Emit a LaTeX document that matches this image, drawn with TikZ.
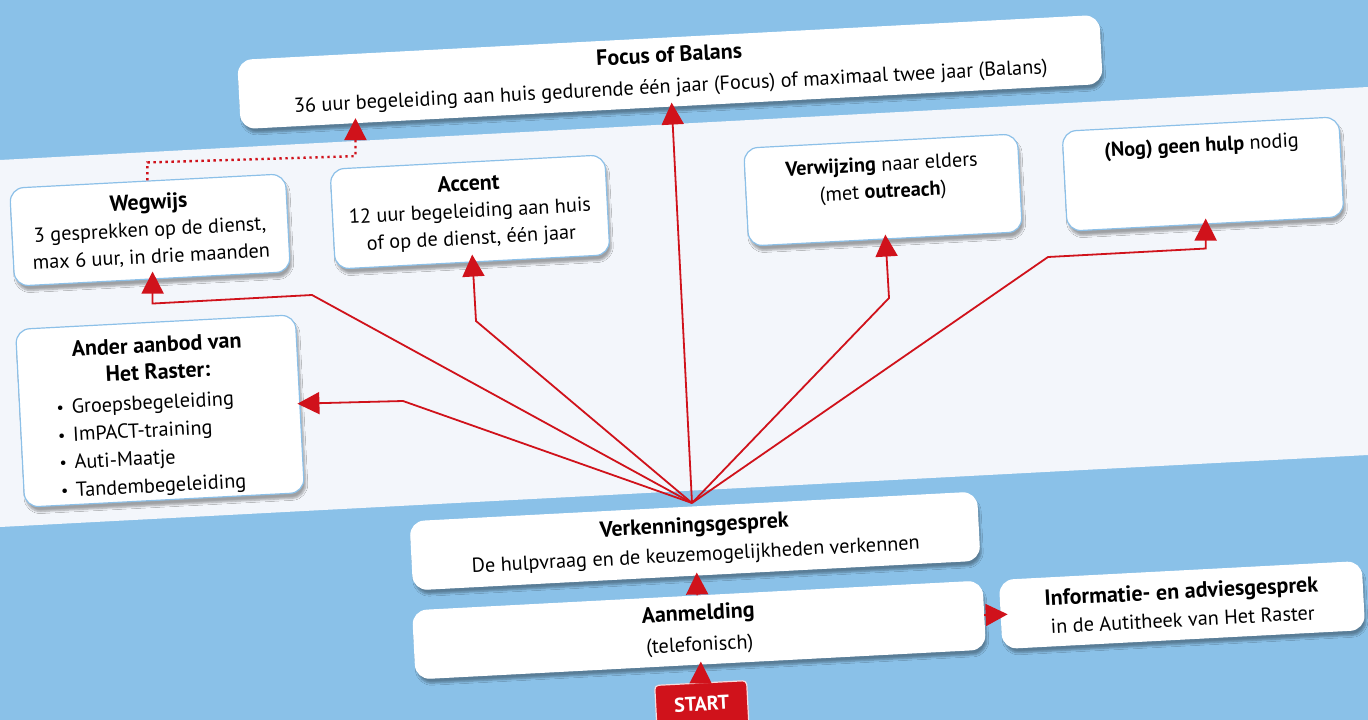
\documentclass[tikz,border=0pt]{standalone}
\usepackage{fontspec}
\setmainfont{PT Sans}
\usetikzlibrary{arrows.meta,calc,shadows.blur}
\definecolor{bgblue}{HTML}{8AC1E8}
\definecolor{band}{HTML}{F3F6FB}
\definecolor{arrred}{HTML}{D0121B}
\definecolor{edgeblue}{HTML}{8CC0E8}
\newcommand{\ttl}[1]{{\fontsize{22}{27}\selectfont\bfseries #1}}
\newcommand{\bul}{\makebox[15pt][l]{\raisebox{1pt}{\scalebox{0.8}{•}}}}
\begin{document}
\begin{tikzpicture}[x=1pt,y=-1pt,
  box/.style={draw=#1, line width=1.2pt, fill=white, rounded corners=14pt, rotate=3,
    align=center, font=\fontsize{20.3}{27}\selectfont, inner sep=0pt,
    blur shadow={shadow xshift=2pt, shadow yshift=-5pt, shadow blur steps=6, shadow opacity=35}},
  box/.default=edgeblue,
  conn/.style={draw=arrred, line width=1.8pt, -{Triangle[width=22pt,length=22pt]}},
  dotconn/.style={draw=arrred, line width=2.4pt, dash pattern=on 2.4pt off 3.6pt, -{Triangle[width=22pt,length=22pt]}},
]
\useasboundingbox (0,0) rectangle (1368,720);
\fill[bgblue] (0,0) rectangle (1368,720);
\fill[band] (0,160) -- (1368,87) -- (1368,455) -- (0,527) -- cycle;

% boxes
\node[box=white, minimum width=862pt, minimum height=68pt] (focus) at (670,72)
  {\ttl{Focus of Balans}\\[4pt]36 uur begeleiding aan huis gedurende één jaar (Focus) of maximaal twee jaar (Balans)};
\node[box, minimum width=276pt, minimum height=98pt] (wegwijs) at (150,230)
  {\ttl{Wegwijs}\\3 gesprekken op de dienst,\\max 6 uur, in drie maanden};
\node[box, minimum width=275pt, minimum height=100pt] (accent) at (470,212)
  {\ttl{Accent}\\12 uur begeleiding aan huis\\of op de dienst, één jaar};
\node[box, minimum width=274pt, minimum height=98pt] (verw) at (883,190)
  {\parbox[c][98pt][t]{260pt}{\centering\rule{0pt}{30pt}\textbf{Verwijzing} naar elders\\(met \textbf{outreach})}};
\node[box, minimum width=277pt, minimum height=100pt] (nog) at (1203,174)
  {\parbox[c][100pt][t]{260pt}{\centering\rule{0pt}{28pt}\textbf{(Nog) geen hulp} nodig}};
\node[box, minimum width=280pt, minimum height=178pt] (ander) at (160,411)
  {\parbox[c][178pt][t]{270pt}{\centering\rule{0pt}{30pt}\ttl{Ander aanbod van}\\\ttl{Het Raster:}\\[3pt]
   \parbox[t]{206pt}{\raggedright\baselineskip=27.7pt
   \bul Groepsbegeleiding\\
   \bul ImPACT-training\\
   \bul Auti-Maatje\\
   \bul Tandembegeleiding}}};
\node[box=white, minimum width=567pt, minimum height=68pt] (verk) at (695,541)
  {\ttl{Verkenningsgesprek}\\[2pt]De hulpvraag en de keuzemogelijkheden verkennen};
\node[box=white, minimum width=570pt, minimum height=68pt] (aanm) at (699,630)
  {\ttl{Aanmelding}\\[4pt](telefonisch)};
\node[box=white, minimum width=362pt, minimum height=68pt] (info) at (1182,605)
  {\ttl{Informatie- en adviesgesprek}\\[1pt]in de Autitheek van Het Raster};
\node[draw=white!85!arrred, line width=1.2pt, fill=arrred, rounded corners=4pt, rotate=3,
  minimum width=92pt, minimum height=52pt, inner sep=0pt, text=white,
  font=\fontsize{20}{24}\selectfont\bfseries] (start) at (702,709) {\raisebox{11pt}{START}};

% helper coordinates
\coordinate (hub) at (692,503);
\coordinate (wb) at (312,295);
\path (wegwijs.south) ++(0,24) coordinate (wc);
\coordinate (ab) at (476,321);
\coordinate (vb) at (889,298);
\coordinate (nb) at (1048,257);
\path (nog.south) ++(0,24) coordinate (nc);
\coordinate (db) at (403,401);
\path (wegwijs.north) ++(0,-18) coordinate (d1);
\coordinate (fd) at ($(focus.south west)!0.133!(focus.south east)$);
\path (fd) ++(0,33) coordinate (d2);

% connectors
\draw[conn, shorten >=-4pt] (hub) -- (focus.south);
\draw[conn, shorten >=-8pt] (hub) -- (wb) -- (wc) -- (wegwijs.south);
\draw[conn, shorten >=-8pt] (hub) -- (ab) -- (accent.south);
\draw[conn, shorten >=-5pt] (hub) -- (vb) -- (verw.south);
\draw[conn, shorten >=-6pt] (hub) -- (nb) -- (nc) -- (nog.south);
\draw[conn, shorten >=-3pt] (hub) -- (db) -- (ander.east);
\draw[dotconn, shorten >=-5pt] (wegwijs.north) -- (d1) -- (d2) -- (fd);
\draw[conn, shorten >=-3pt] (aanm.north) -- (verk.south);
\draw[conn, shorten >=-3pt] (start.north) -- (aanm.south);
\draw[conn, shorten >=-7pt] (aanm.east) -- (info.west);
\end{tikzpicture}
\end{document}
